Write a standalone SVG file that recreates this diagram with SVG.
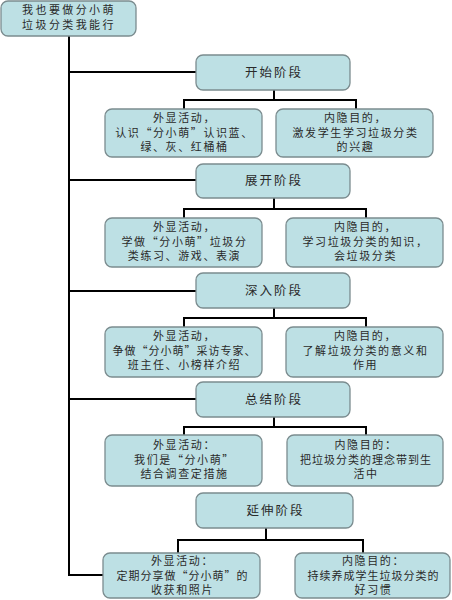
<svg xmlns="http://www.w3.org/2000/svg" width="452" height="600" viewBox="0 0 452 600">
<style>
.box{fill:#bde0e4;stroke:#7b8c8f;stroke-width:1.3}
.ln{fill:none;stroke:#000;stroke-width:2}
text{font-family:"Noto Sans CJK SC","Noto Sans",sans-serif;font-size:11px;letter-spacing:1.6px;fill:#2a2a2a;text-anchor:middle}
.st{font-size:12.5px;letter-spacing:2px}
.rt{font-size:11px;letter-spacing:2.4px}
</style>
<rect width="452" height="600" fill="#fff"/>
<g id="connectors">
<path class="ln" d="M69 36V575H103"/>
<path class="ln" d="M69 72H196M69 180H196M69 291H196M69 399H196"/>
<path class="ln" d="M274 90V100M184 109V100H356V109"/>
<path class="ln" d="M274 198V209M184 218V209H366V218"/>
<path class="ln" d="M274 308V318M184 327V318H366V327"/>
<path class="ln" d="M274 417V427M184 435V427H366V435"/>
<path class="ln" d="M266 528V540M178 553V540H363V553"/>
</g>
<g id="root"><rect class="box" x="1" y="1" width="135" height="35" rx="7"/><text x="69" y="14" class="rt">我也要做分小萌</text><text x="69" y="28.5" class="rt">垃圾分类我能行</text></g>
<g id="s1"><rect class="box" x="196" y="55" width="154" height="35" rx="7"/><text x="274" y="77" class="st">开始阶段</text></g>
<g id="s1a"><rect class="box" x="105" y="109" width="157" height="48" rx="7"/><text x="184.5" y="122">外显活动，</text><text x="184.5" y="136.5">认识“分小萌”认识蓝、</text><text x="184.5" y="151">绿、灰、红桶桶</text></g>
<g id="s1b"><rect class="box" x="276" y="109" width="157" height="48" rx="7"/><text x="355.5" y="122">内隐目的，</text><text x="355.5" y="136.5">激发学生学习垃圾分类</text><text x="355.5" y="151">的兴趣</text></g>
<g id="s2"><rect class="box" x="196" y="164" width="154" height="34" rx="7"/><text x="274" y="185" class="st">展开阶段</text></g>
<g id="s2a"><rect class="box" x="105" y="218" width="157" height="49" rx="7"/><text x="184.5" y="231">外显活动，</text><text x="184.5" y="245.5">学做“分小萌”垃圾分</text><text x="184.5" y="260">类练习、游戏、表演</text></g>
<g id="s2b"><rect class="box" x="286" y="218" width="157" height="49" rx="7"/><text x="365.5" y="231">内隐目的，</text><text x="365.5" y="245.5">学习垃圾分类的知识，</text><text x="365.5" y="260">会垃圾分类</text></g>
<g id="s3"><rect class="box" x="196" y="273" width="154" height="35" rx="7"/><text x="274" y="295" class="st">深入阶段</text></g>
<g id="s3a"><rect class="box" x="105" y="327" width="157" height="50" rx="7"/><text x="184.5" y="340">外显活动，</text><text x="184.5" y="354.5" style="letter-spacing:1px">争做“分小萌”采访专家、</text><text x="184.5" y="369">班主任、小榜样介绍</text></g>
<g id="s3b"><rect class="box" x="286" y="327" width="157" height="50" rx="7"/><text x="365.5" y="340">内隐目的，</text><text x="365.5" y="354.5">了解垃圾分类的意义和</text><text x="365.5" y="369">作用</text></g>
<g id="s4"><rect class="box" x="196" y="382" width="154" height="35" rx="7"/><text x="274" y="404" class="st">总结阶段</text></g>
<g id="s4a"><rect class="box" x="105" y="435" width="157" height="51" rx="7"/><text x="184.5" y="449">外显活动：</text><text x="184.5" y="463.5">我们是“分小萌”</text><text x="184.5" y="478">结合调查定措施</text></g>
<g id="s4b"><rect class="box" x="287" y="435" width="156" height="51" rx="7"/><text x="366" y="449">内隐目的：</text><text x="366" y="463.5" style="letter-spacing:1px">把垃圾分类的理念带到生</text><text x="366" y="478">活中</text></g>
<g id="s5"><rect class="box" x="196" y="493" width="157" height="35" rx="7"/><text x="275.5" y="515" class="st">延伸阶段</text></g>
<g id="s5a"><rect class="box" x="103" y="553" width="157" height="45" rx="7"/><text x="182.5" y="565">外显活动：</text><text x="182.5" y="579.5" style="letter-spacing:1px">定期分享做“分小萌”的</text><text x="182.5" y="594">收获和照片</text></g>
<g id="s5b"><rect class="box" x="295" y="553" width="155" height="45" rx="7"/><text x="373.5" y="565">内隐目的：</text><text x="373.5" y="579.5" style="letter-spacing:1px">持续养成学生垃圾分类的</text><text x="373.5" y="594">好习惯</text></g>
</svg>
